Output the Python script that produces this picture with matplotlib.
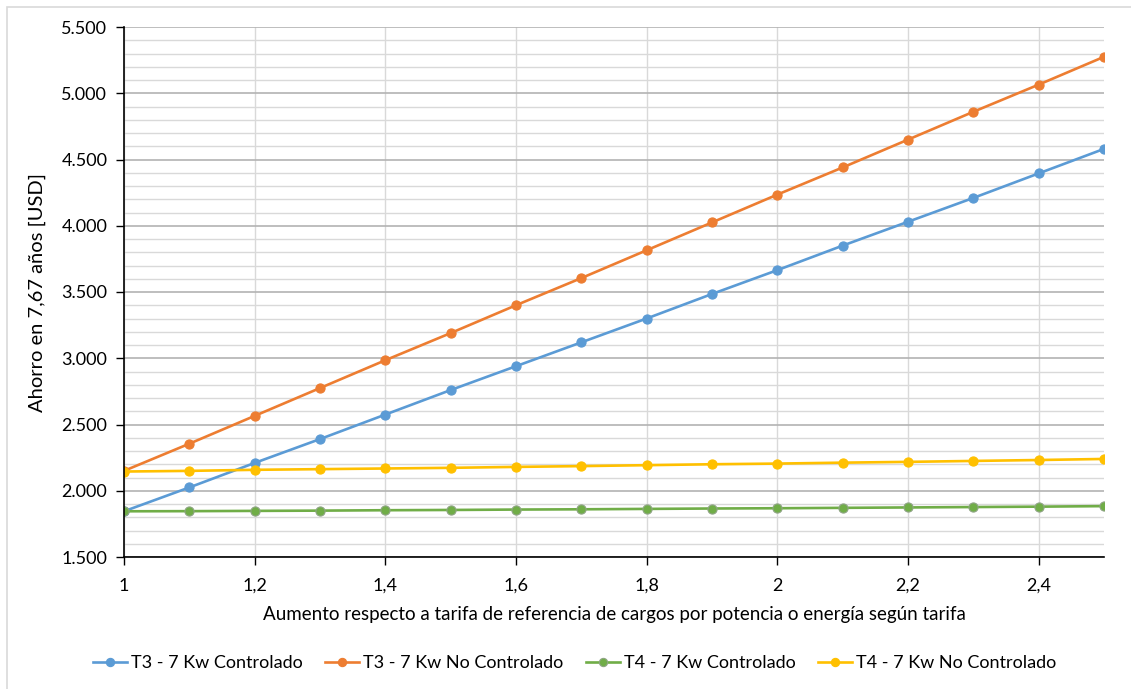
import matplotlib
matplotlib.use("Agg")
import matplotlib.pyplot as plt
from matplotlib.patches import Rectangle
from matplotlib.ticker import MultipleLocator, FuncFormatter

plt.rcParams['font.family'] = ['Lato', 'DejaVu Sans']

# Increase factor over the reference tariff
factor = [1.0, 1.1, 1.2, 1.3, 1.4, 1.5, 1.6, 1.7, 1.8, 1.9, 2.0, 2.1, 2.2, 2.3, 2.4, 2.5]

# Savings over 7.67 years [USD]
t3_controlado = [1845, 2025, 2210, 2390, 2575, 2760, 2940, 3120, 3300, 3485,
                 3665, 3850, 4030, 4210, 4395, 4580]
t3_no_controlado = [2150, 2355, 2565, 2775, 2985, 3190, 3400, 3605, 3815, 4025,
                    4235, 4440, 4650, 4860, 5065, 5275]
t4_controlado = [1845, 1846, 1848, 1850, 1853, 1855, 1858, 1860, 1863, 1866,
                 1868, 1871, 1874, 1877, 1880, 1884]
t4_no_controlado = [2145, 2150, 2158, 2163, 2168, 2173, 2180, 2186, 2193, 2200,
                    2205, 2212, 2218, 2225, 2232, 2240]

series_labels = ["T3 - 7 Kw Controlado", "T3 - 7 Kw No Controlado",
                 "T4 - 7 Kw Controlado", "T4 - 7 Kw No Controlado"]
colors = ["#5B9BD5", "#ED7D31", "#70AD47", "#FFC000"]

fig = plt.figure(figsize=(11.31, 6.89), dpi=100)
ax = fig.add_axes([124 / 1131, 1 - 557 / 689, 980 / 1131, 530 / 689])

for vals, lab, col in zip([t3_controlado, t3_no_controlado, t4_controlado, t4_no_controlado],
                          series_labels, colors):
    edge = "#8FA585" if col == "#70AD47" else col
    ax.plot(factor, vals, color=col, lw=1.9, marker='o', ms=6.6,
            markerfacecolor=col, markeredgecolor=edge, markeredgewidth=0.8,
            label=lab, zorder=3)

ax.set_xlim(1.0, 2.5)
ax.set_ylim(1500, 5500)
ax.xaxis.set_major_locator(MultipleLocator(0.2))
ax.yaxis.set_major_locator(MultipleLocator(500))
ax.yaxis.set_minor_locator(MultipleLocator(100))

def fmt_x(v, _):
    s = ("%.1f" % v).rstrip('0').rstrip('.')
    return s.replace('.', ',')

def fmt_y(v, _):
    return "{:,.0f}".format(v).replace(',', '.')

ax.xaxis.set_major_formatter(FuncFormatter(fmt_x))
ax.yaxis.set_major_formatter(FuncFormatter(fmt_y))

ax.grid(which='major', axis='y', color='#B3B3B3', lw=1.2, zorder=1)
ax.grid(which='minor', axis='y', color='#D9D9D9', lw=1.0, zorder=1)
ax.grid(which='major', axis='x', color='#D9D9D9', lw=1.0, zorder=1)

for s in ['top', 'right']:
    ax.spines[s].set_visible(False)
for s in ['left', 'bottom']:
    ax.spines[s].set_color('black')
    ax.spines[s].set_linewidth(1.2)
    ax.spines[s].set_zorder(4)

ax.tick_params(axis='both', which='major', direction='out', length=6, width=1,
               color='black', labelsize=13, labelcolor='#000000', pad=6)
ax.tick_params(axis='y', which='minor', length=0)
ax.tick_params(axis='x', pad=9)

ax.set_ylabel("Ahorro en 7,67 años [USD]", fontsize=14.5, labelpad=11)
ax.set_xlabel("Aumento respecto a tarifa de referencia de cargos por potencia o energía según tarifa",
              fontsize=13.5, labelpad=9)

fig.legend(loc='center', bbox_to_anchor=(0.508, 1 - 663 / 689), ncol=4, frameon=False,
           fontsize=13, handlelength=1.9, handletextpad=0.2, columnspacing=1.25,
           markerscale=0.9)

# Light border around the chart area
fig.patches.append(Rectangle((7 / 1131, -0.05), 1.1, 1 - 7 / 689 + 0.05,
                             transform=fig.transFigure, fill=False,
                             edgecolor='#D9D9D9', lw=1.2))

fig.savefig("out.png", dpi=100)
